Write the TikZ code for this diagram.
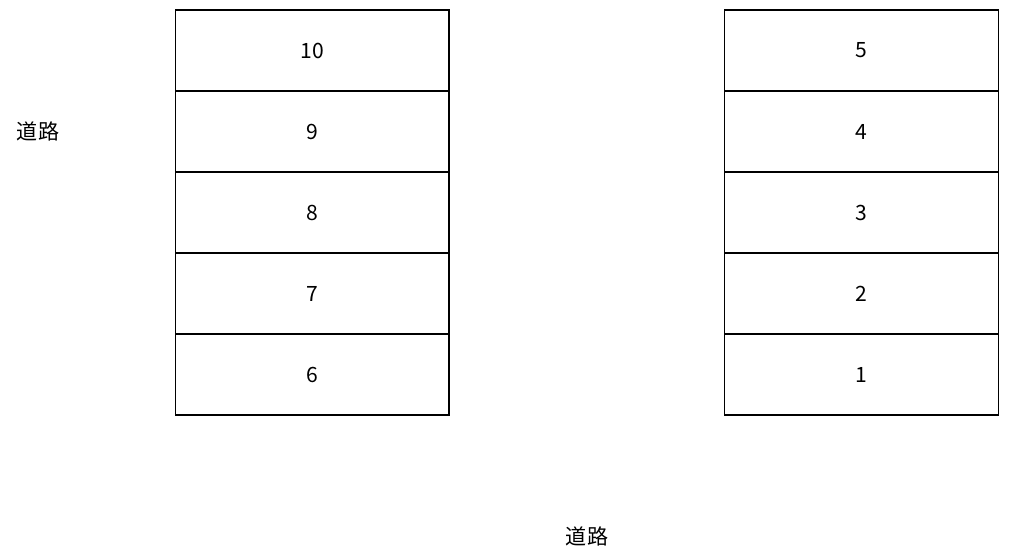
\documentclass[tikz,border=0pt]{standalone}
\usepackage{fontspec}
\setmainfont{Noto Sans CJK JP}
\begin{document}
\begin{tikzpicture}[
    x=0.02cm, y=-0.02cm,
    every node/.style={font=\fontsize{12}{14}\selectfont},
    lot/.style={draw,line width=0.6pt,minimum width=5.48cm,minimum height=1.62cm,inner sep=0pt},
  ]
  \useasboundingbox (0,0) rectangle (1011,553);

  % left row of lots
  \node[lot] (l10) at (312,50.5) {10};
  \node[lot] (l9) at (312,131.5) {9};
  \node[lot] (l8) at (312,212.5) {8};
  \node[lot] (l7) at (312,293.5) {7};
  \node[lot] (l6) at (312,374.5) {6};

  % right row of lots
  \node[lot] (l5) at (861.5,50.5) {5};
  \node[lot] (l4) at (861.5,131.5) {4};
  \node[lot] (l3) at (861.5,212.5) {3};
  \node[lot] (l2) at (861.5,293.5) {2};
  \node[lot] (l1) at (861.5,374.5) {1};

  % roads
  \node (roadW) at (38,131) {道路};
  \node (roadS) at (587,536) {道路};
\end{tikzpicture}
\end{document}
